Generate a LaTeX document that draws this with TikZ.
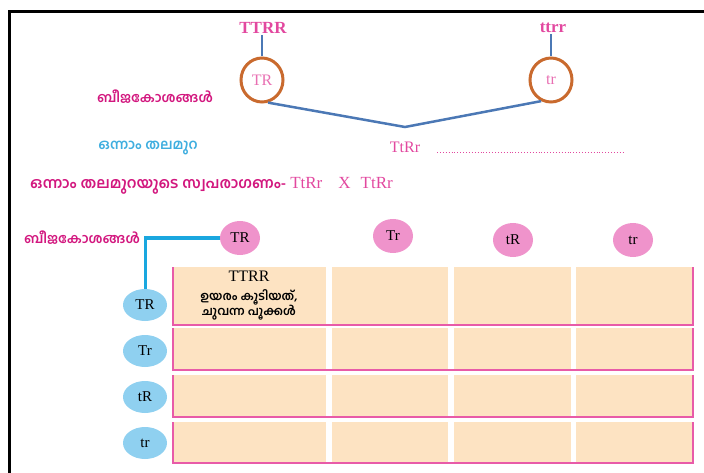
\documentclass[tikz,border=0pt]{standalone}
\usepackage{fontspec}
\setmainfont{Liberation Serif}
\newfontfamily\ml[Script=Malayalam]{Hind Kochi}
\usetikzlibrary{shapes.geometric}
\definecolor{pinkT}{HTML}{E2489F}
\definecolor{pinkL}{HTML}{E86FB2}
\definecolor{magL}{HTML}{D2177E}
\definecolor{cyanL}{HTML}{3FAEDF}
\definecolor{orangeC}{HTML}{C96A2E}
\definecolor{blueL}{HTML}{4B78B5}
\definecolor{pinkF}{HTML}{EF93CB}
\definecolor{lblue}{HTML}{8FD0F0}
\definecolor{cellF}{HTML}{FDE3C2}
\definecolor{pinkB}{HTML}{E85BA8}
\definecolor{cyanC}{HTML}{1AA7DF}
\tikzset{
  toptext/.style={text=pinkT,font=\fontsize{17}{19}\selectfont\bfseries,inner sep=1pt},
  gamring/.style={ellipse,draw=orangeC,line width=3pt,minimum width=42pt,minimum height=44pt,inner sep=0pt,text=pinkL,font=\fontsize{16}{18}\selectfont},
  blueline/.style={draw=blueL,line width=2.5pt},
  mllabel/.style={text=magL,font=\ml\bfseries\fontsize{13.5}{15}\selectfont,inner sep=1pt},
  cyanlabel/.style={text=cyanL,font=\ml\bfseries\fontsize{14}{16}\selectfont,inner sep=1pt},
  pinkgam/.style={ellipse,fill=pinkF,minimum width=40pt,minimum height=34pt,inner sep=0pt,font=\fontsize{15}{17}\selectfont},
  bluegam/.style={ellipse,fill=lblue,minimum width=44pt,minimum height=32pt,inner sep=0pt,font=\fontsize{15}{17}\selectfont},
  cellbox/.style={fill=cellF,draw=none},
  rowline/.style={draw=pinkB,line width=2.5pt},
  conn/.style={draw=cyanC,line width=3pt}
}
\begin{document}
\begin{tikzpicture}[x=1pt,y=-1pt]
\useasboundingbox (0,0) rectangle (704,473);
\draw[line width=3pt] (9.5,473) -- (9.5,12) -- (704,12);
% parents
\node[toptext] (P1) at (263,28) {TTRR};
\node[toptext] (P2) at (553,28) {ttrr};
\node[gamring] (G1) at (262,80) {TR};
\node[gamring] (G2) at (551,80) {tr};
\draw[blueline] (G1.north |- P1.south) -- (G1.north);
\draw[blueline] (G2.north |- P2.south) -- (G2.north);
\coordinate (V) at (405,127);
\draw[blueline] (G1.-75) -- (V) -- (G2.-115);
\node[mllabel] (L1) at (155,97) {ബീജകോശങ്ങൾ};
\node[cyanlabel] (L2) at (148,148) {ഒന്നാം തലമുറ};
\node[text=pinkT,font=\fontsize{16}{18}\selectfont,inner sep=1pt] (F1) at (405,147) {TtRr};
\coordinate (D1) at (437,152);
\coordinate (D2) at (625,152);
\draw[pinkT,dotted,line width=0.9pt] (D1) -- (D2);
\node[anchor=west,inner sep=0pt] (L3) at (30,186) {{\color{magL}\ml\bfseries\fontsize{15}{17}\selectfont ഒന്നാം തലമുറയുടെ സ്വപരാഗണം-}\hspace{4pt}{\color{pinkT}\fontsize{17}{19}\selectfont TtRr\hspace{16pt}X\hspace{10pt}TtRr}};
% gametes
\node[mllabel] (L4) at (82,238) {ബീജകോശങ്ങൾ};
\node[pinkgam] (A1) at (240,238) {TR};
\node[pinkgam] (A2) at (393,236) {Tr};
\node[pinkgam] (A3) at (513,240) {tR};
\node[pinkgam] (A4) at (633,240) {tr};
\node[bluegam] (B1) at (145,305) {TR};
\node[bluegam] (B2) at (145,351) {Tr};
\node[bluegam] (B3) at (145,397) {tR};
\node[bluegam] (B4) at (145,443) {tr};
\coordinate (K) at (B1.north |- A1.west);
\draw[conn] (A1.west) -- (K) -- (B1.north);
% grid
\foreach \t/\b [count=\r] in {267/325,328/370,375/417,422/463}{
  \foreach \xa/\xb [count=\c] in {174/326,332/448,454/571,576/693}{
    \path[cellbox] (\xa,\t) rectangle (\xb,\b);
  }
  \draw[rowline] (173,\t) -- (173,\b) -- (693,\b) -- (693,\t);
}
\node[font=\fontsize{16}{18}\selectfont,inner sep=0pt] (C1) at (249,276) {TTRR};
\node[font=\ml\bfseries\fontsize{12}{14}\selectfont,inner sep=0pt,align=center] (C2) at (249,305) {ഉയരം കൂടിയത്,\\[-1pt]ചുവന്ന പൂക്കൾ};
\end{tikzpicture}
\end{document}
